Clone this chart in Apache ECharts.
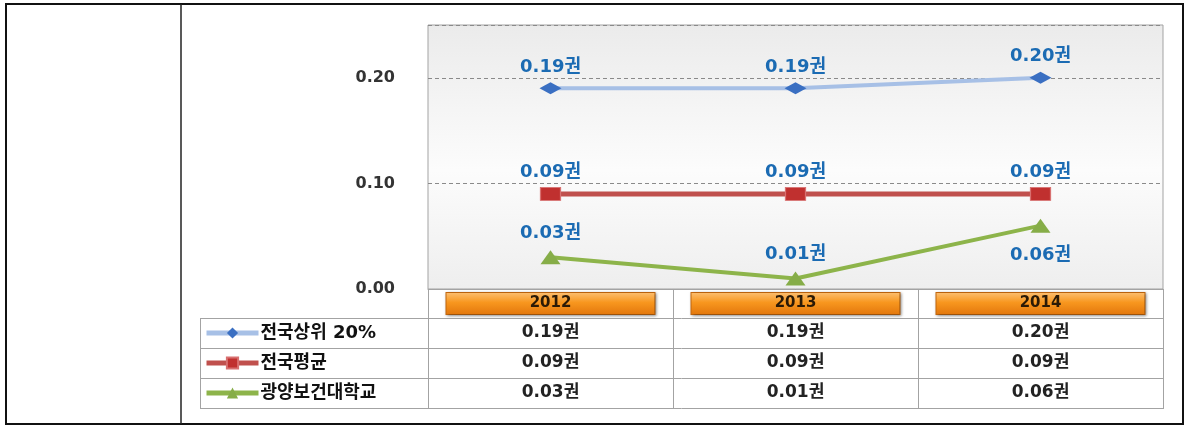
<!DOCTYPE html>
<html>
<head>
<meta charset="utf-8">
<script src="https://cdn.jsdelivr.net/npm/echarts@6/dist/echarts.min.js"></script>
<style>
  html, body { margin: 0; padding: 0; background: #fff; }
  #myChart { width: 1186px; height: 427px; }
</style>
</head>
<body>
<div id="myChart"></div>
<script>
const years = ['2012', '2013', '2014']
const seriesNames = ['전국상위 20%', '전국평균', '광양보건대학교']
const top20 = [0.19, 0.19, 0.20]
const national = [0.09, 0.09, 0.09]
const school = [0.03, 0.01, 0.06]

const FONT = "'DejaVu Sans', 'Noto Sans CJK KR', sans-serif"
const fmt = v => v.toFixed(2) + '권'

const labelStyle = {
  show: true,
  position: 'top',
  distance: 6,
  color: '#1b6bb3',
  fontWeight: 'bold',
  fontSize: 18,
  fontFamily: FONT,
  formatter: p => fmt(p.value)
}

// 표 구분선 (장식)
const gray = '#a3a3a3'
const tableLines = []
;[318.5, 348.5, 378.5, 408.5].forEach(y => {
  tableLines.push({ type: 'line', shape: { x1: 200, y1: y, x2: 1163, y2: y }, style: { stroke: gray, lineWidth: 1 } })
})
tableLines.push({ type: 'line', shape: { x1: 200.5, y1: 318, x2: 200.5, y2: 409 }, style: { stroke: gray, lineWidth: 1 } })
;[428.5, 673.5, 918.5, 1163.5].forEach(x => {
  tableLines.push({ type: 'line', shape: { x1: x, y1: 289, x2: x, y2: 409 }, style: { stroke: gray, lineWidth: 1 } })
})

const option = {
  animation: false,
  backgroundColor: '#fff',
  grid: {
    left: 428,
    right: 23,
    top: 25,
    bottom: 138,
    outerBoundsMode: 'none',
    show: true,
    borderColor: gray,
    borderWidth: 1,
    backgroundColor: {
      type: 'linear', x: 0, y: 0, x2: 0, y2: 1,
      colorStops: [
        { offset: 0, color: '#ebebeb' },
        { offset: 0.55, color: '#fcfcfc' },
        { offset: 1, color: '#eeeeee' }
      ]
    }
  },
  legend: {
    orient: 'vertical',
    left: 204,
    top: 324,
    padding: 0,
    itemWidth: 52,
    itemHeight: 14,
    itemGap: 12,
    data: seriesNames,
    lineStyle: { width: 5 },
    textStyle: { fontSize: 18, fontWeight: 'bold', color: '#111', fontFamily: FONT, padding: [0, 0, 0, -3] }
  },
  xAxis: {
    type: 'category',
    data: years,
    boundaryGap: true,
    axisTick: { show: false },
    axisLine: { lineStyle: { color: gray, width: 1 } },
    splitLine: { show: false },
    axisLabel: {
      margin: 0,
      interval: 0,
      formatter: (v, i) => '{btn|' + v + '}\n{v|' + fmt(top20[i]) + '}\n{v|' + fmt(national[i]) + '}\n{v|' + fmt(school[i]) + '}',
      rich: {
        btn: {
          width: 208,
          height: 21,
          lineHeight: 29,
          align: 'center',
          fontSize: 15,
          fontWeight: 'bold',
          fontFamily: FONT,
          color: '#2b1a06',
          borderColor: '#c4680f',
          borderWidth: 1,
          shadowBlur: 3,
          shadowColor: 'rgba(0,0,0,0.35)',
          shadowOffsetX: 1,
          shadowOffsetY: 1,
          backgroundColor: {
            type: 'linear', x: 0, y: 0, x2: 0, y2: 1,
            colorStops: [
              { offset: 0, color: '#fcc074' },
              { offset: 0.45, color: '#f8971f' },
              { offset: 1, color: '#e2760c' }
            ]
          }
        },
        v: {
          lineHeight: 30,
          align: 'center',
          fontSize: 17,
          fontWeight: 'bold',
          fontFamily: FONT,
          color: '#222'
        }
      }
    }
  },
  yAxis: {
    type: 'value',
    min: 0,
    max: 0.25,
    interval: 0.1,
    axisLine: { show: false },
    axisTick: { show: false },
    axisLabel: {
      margin: 33,
      showMaxLabel: false,
      formatter: v => v.toFixed(2),
      fontSize: 16,
      fontWeight: 'bold',
      fontFamily: FONT,
      color: '#333'
    },
    splitLine: { lineStyle: { color: '#8a8a8a', type: [4, 3], width: 1 } }
  },
  series: [
    {
      name: seriesNames[0],
      type: 'line',
      data: top20,
      symbol: 'diamond',
      symbolSize: [22, 12],
      lineStyle: { color: '#a7c0e6', width: 4 },
      itemStyle: { color: '#3a6fc2' },
      label: labelStyle
    },
    {
      name: seriesNames[1],
      type: 'line',
      data: national,
      symbol: 'rect',
      symbolSize: [20, 13],
      lineStyle: { color: '#c0504d', width: 5 },
      itemStyle: { color: '#c0302f', borderColor: '#d87070', borderWidth: 1 },
      label: labelStyle
    },
    {
      name: seriesNames[2],
      type: 'line',
      data: school.map((v, i) => i === 2 ? { value: v, label: { position: 'bottom', distance: 14 } } : v),
      symbol: 'triangle',
      symbolSize: [20, 14],
      lineStyle: { color: '#8db44a', width: 4 },
      itemStyle: { color: '#86ad48' },
      label: Object.assign({}, labelStyle, { distance: 8 })
    }
  ],
  graphic: [
    { type: 'rect', shape: { x: 6, y: 4, width: 1177, height: 420 }, style: { fill: null, stroke: '#111', lineWidth: 2 }, z: 100 },
    { type: 'line', shape: { x1: 181, y1: 4, x2: 181, y2: 424 }, style: { stroke: '#222', lineWidth: 1.5 }, z: 100 }
  ].concat(tableLines)
}

const myChart = echarts.init(document.getElementById('myChart'))
myChart.setOption(option)
</script>
</body>
</html>
